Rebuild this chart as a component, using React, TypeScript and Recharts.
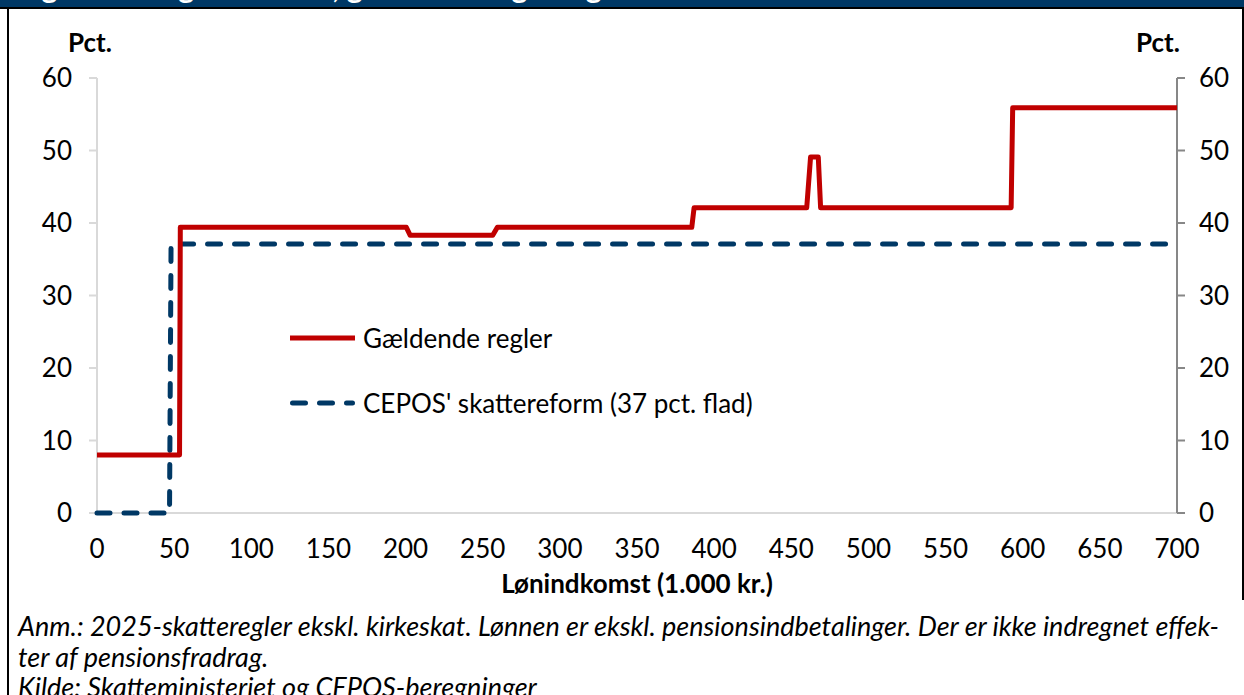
import { LineChart, Line, XAxis, YAxis, Legend } from "recharts";

// Marginalskat ved lønindkomst: gældende regler vs. CEPOS' flade skat

const incomeCurrent = [0, 53.5, 54, 200.5, 203, 256.5, 259.5, 385.5, 387, 460, 462.5, 467.5, 469, 592.5, 593.5, 700];
const rateCurrent = [8, 8, 39.4, 39.4, 38.3, 38.3, 39.4, 39.4, 42.1, 42.1, 49.1, 49.1, 42.1, 42.1, 55.9, 55.9];

const incomeReform = [0, 47, 48, 700];
const rateReform = [0, 0, 37.1, 37.1];

const xTicks = [0, 50, 100, 150, 200, 250, 300, 350, 400, 450, 500, 550, 600, 650, 700];
const yTicks = [0, 10, 20, 30, 40, 50, 60];

const seriesNames = ["Gældende regler", "CEPOS' skattereform (37 pct. flad)"];

const title = "Figur 1. Marginalskatter, gældende regler og CEPOS' skattereform";
const noteLines = [
  "Anm.: 2025-skatteregler ekskl. kirkeskat. Lønnen er ekskl. pensionsindbetalinger. Der er ikke indregnet effek-",
  "ter af pensionsfradrag.",
  "Kilde: Skatteministeriet og CEPOS-beregninger",
];

const RED = "#c00000";
const NAVY = "#003865";
const FONT = "Lato, 'Open Sans', sans-serif";

const currentData = incomeCurrent.map((x, i) => ({ x, y: rateCurrent[i] }));
const reformData = incomeReform.map((x, i) => ({ x, y: rateReform[i] }));

function LegendBox() {
  const rows = [
    { name: seriesNames[0], color: RED, dash: undefined },
    { name: seriesNames[1], color: NAVY, dash: "13 14" },
  ];
  return (
    <div style={{ fontFamily: FONT, fontSize: 26, color: "#000" }}>
      {rows.map((r) => (
        <div key={r.name} style={{ display: "flex", alignItems: "center", height: 65 }}>
          <svg width={75} height={10}>
            <line
              x1={r.dash ? 7.5 : 5}
              x2={r.dash ? 67.5 : 70}
              y1={5}
              y2={5}
              stroke={r.color}
              strokeWidth={5}
              strokeDasharray={r.dash}
              strokeLinecap={r.dash ? "round" : "butt"}
            />
          </svg>
          <span style={{ marginLeft: 3, whiteSpace: "nowrap" }}>{r.name}</span>
        </div>
      ))}
    </div>
  );
}

export default function App() {
  const tickStyle = { fill: "#000", fontSize: 26, fontFamily: FONT };
  return (
    <div
      style={{
        position: "absolute",
        left: 0,
        top: 0,
        width: 1244,
        height: 695,
        overflow: "hidden",
        background: "#fff",
        fontFamily: FONT,
      }}
    >
      {/* banner, only the bottom of its title is visible */}
      <div
        style={{
          position: "absolute",
          left: 0,
          top: 0,
          width: 1244,
          height: 7,
          background: NAVY,
          overflow: "hidden",
        }}
      >
        <div
          style={{
            position: "absolute",
            left: 17,
            top: -29.5,
            fontSize: 30,
            lineHeight: "30px",
            fontWeight: 700,
            color: "#fff",
            whiteSpace: "nowrap",
          }}
        >
          {title}
        </div>
      </div>
      <div style={{ position: "absolute", left: 0, top: 7, width: 1244, height: 2, background: "#000" }} />
      <div style={{ position: "absolute", left: 7, top: 8, width: 2, height: 690, background: "#000" }} />
      <div style={{ position: "absolute", left: 1242, top: 8, width: 2, height: 592, background: "#000" }} />

      <div style={{ position: "absolute", left: 0, top: 0 }}>
        <LineChart width={1244} height={600} margin={{ top: 78, right: 0, bottom: 0, left: 0 }}>
          <XAxis
            type="number"
            dataKey="x"
            domain={[0, 700]}
            ticks={xTicks}
            interval={0}
            height={87}
            tick={tickStyle}
            tickLine={false}
            tickSize={8}
            tickMargin={19}
            axisLine={{ stroke: "#d9d9d9", strokeWidth: 2 }}
            zIndex={-50}
          />
          <YAxis
            yAxisId="l"
            domain={[0, 60]}
            ticks={yTicks}
            interval={0}
            width={97}
            tick={tickStyle}
            tickSize={8}
            tickMargin={17}
            tickLine={{ stroke: "#d9d9d9", strokeWidth: 2 }}
            axisLine={{ stroke: "#d9d9d9", strokeWidth: 2 }}
            zIndex={-50}
          />
          <YAxis
            yAxisId="r"
            orientation="right"
            domain={[0, 60]}
            ticks={yTicks}
            interval={0}
            width={67}
            tick={tickStyle}
            tickSize={8}
            tickMargin={14}
            tickLine={{ stroke: "#878787", strokeWidth: 2 }}
            axisLine={{ stroke: "#878787", strokeWidth: 2 }}
            zIndex={-50}
          />
          <Line
            yAxisId="l"
            data={reformData}
            dataKey="y"
            name={seriesNames[1]}
            type="linear"
            stroke={NAVY}
            strokeWidth={5}
            strokeDasharray="13 14"
            strokeLinecap="round"
            dot={false}
            activeDot={false}
            isAnimationActive={false}
          />
          <Line
            yAxisId="r"
            data={currentData}
            dataKey="y"
            name={seriesNames[0]}
            type="linear"
            stroke={RED}
            strokeWidth={5}
            strokeLinejoin="round"
            dot={false}
            activeDot={false}
            isAnimationActive={false}
          />
          <Legend
            layout="vertical"
            align="center"
            verticalAlign="middle"
            content={() => <LegendBox />}
            wrapperStyle={{ left: 285, top: 305, width: 600 }}
          />
        </LineChart>
      </div>

      <div style={{ position: "absolute", left: 68, top: 26, fontSize: 26, fontWeight: 700 }}>Pct.</div>
      <div style={{ position: "absolute", left: 1136, top: 26, fontSize: 26, fontWeight: 700 }}>Pct.</div>
      <div
        style={{
          position: "absolute",
          left: 437,
          width: 400,
          textAlign: "center",
          top: 567,
          fontSize: 26,
          fontWeight: 700,
        }}
      >
        Lønindkomst (1.000 kr.)
      </div>

      <div style={{ position: "absolute", left: 18, top: 611, fontSize: 27, fontStyle: "italic", lineHeight: "30.5px" }}>
        {noteLines.map((l) => (
          <div key={l} style={{ whiteSpace: "nowrap" }}>
            {l}
          </div>
        ))}
      </div>
    </div>
  );
}
